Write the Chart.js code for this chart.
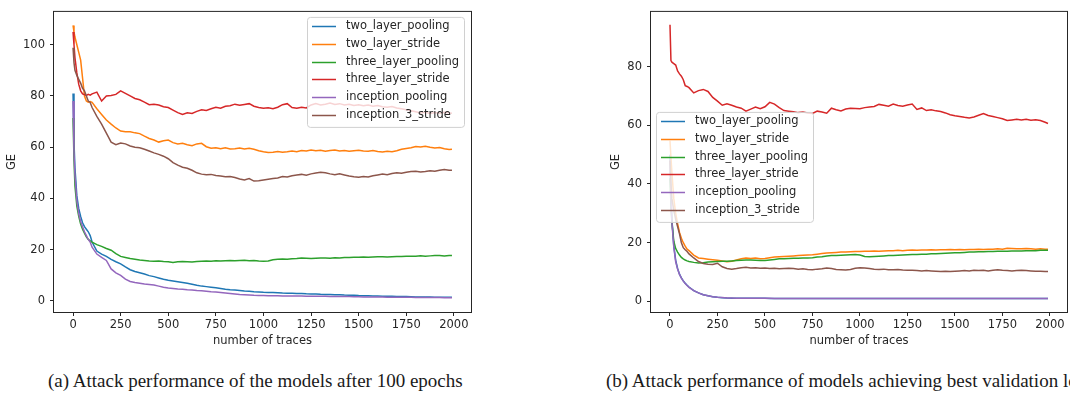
<!DOCTYPE html>
<html>
<head>
<meta charset="utf-8">
<script src="https://cdn.jsdelivr.net/npm/chart.js@4.4.1/dist/chart.umd.min.js"></script>
<style>
  html, body { margin: 0; padding: 0; background: #fff; overflow: hidden; }
  body { width: 1070px; height: 396px; position: relative; }
  canvas { position: absolute; top: 0; }
  #chartA { left: 0; }
  #chartB { left: 604px; }
  .caption {
    position: absolute; top: 370px; line-height: 22px;
    font-family: "Liberation Serif", "DejaVu Serif", serif; font-size: 19px;
    color: #1a1a1a; white-space: nowrap;
  }
</style>
</head>
<body>
<canvas id="chartA" width="480" height="352"></canvas>
<canvas id="chartB" width="466" height="352"></canvas>
<div class="caption" style="left:48px">(a) Attack performance of the models after 100 epochs</div>
<div class="caption" style="left:606px">(b) Attack performance of models achieving best validation loss</div>
<script>
const seriesNames = ["two_layer_pooling", "two_layer_stride", "three_layer_pooling",
  "three_layer_stride", "inception_pooling", "inception_3_stride"];
const seriesColors = ["#1f77b4", "#ff7f0e", "#2ca02c", "#d62728", "#9467bd", "#8c564b"];

const xTicks = [0, 250, 500, 750, 1000, 1250, 1500, 1750, 2000];
const yTicksA = [0, 20, 40, 60, 80, 100];
const yTicksB = [0, 20, 40, 60, 80];

// number of traces (x values shared by every series)
const traces = [0, 5, 10, 20, 30, 40, 50, 60, 70, 80, 90, 100,
  125, 150, 175, 200, 225, 250, 275, 300, 325, 350, 375, 400, 425, 450, 475, 500,
  525, 550, 575, 600, 625, 650, 675, 700, 725, 750, 775, 800, 825, 850, 875, 900,
  925, 950, 975, 1000,
  1025, 1050, 1075, 1100, 1125, 1150, 1175, 1200, 1225, 1250, 1275, 1300, 1325, 1350,
  1375, 1400, 1425, 1450, 1475, 1500, 1525, 1550, 1575, 1600, 1625, 1650, 1675, 1700,
  1725, 1750, 1775, 1800, 1825, 1850, 1875, 1900, 1925, 1950, 1975, 1990];

// (a) after 100 epochs
const a_twoLayerPooling = [81, 62, 52, 41, 36, 33, 30.5, 29, 28, 27, 25.5, 23,
  19.5, 18.3, 17.4, 16.2, 15.3, 14.5, 13.3, 12.2, 11.5, 11,
  10.5, 9.9, 9.5, 9, 8.5, 8.1, 7.8, 7.5, 7.2, 6.9,
  6.5, 6.1, 5.8, 5.6, 5.4, 5.2, 4.9, 4.6, 4.4, 4.3,
  4.1, 3.9, 3.8, 3.6, 3.5, 3.4,
  3.35, 3.3, 3.2, 3.1, 3.05, 3, 2.95, 2.9, 2.8, 2.75,
  2.7, 2.6, 2.55, 2.5, 2.45, 2.4, 2.3, 2.25, 2.2, 2.1,
  2.05, 2, 1.95, 1.9, 1.85, 1.8, 1.8, 1.75, 1.7, 1.7,
  1.65, 1.6, 1.6, 1.55, 1.55, 1.5, 1.5, 1.5, 1.45, 1.45];
const a_twoLayerStride = [107.5, 105, 103, 100, 97, 94, 87, 80, 78, 77.6, 77.8, 77.5,
  75, 72.8, 70.6, 69, 67.5, 66.3, 66, 66, 65.6, 65.3,
  64.3, 63.4, 62.8, 62, 62.5, 62.8, 61.8, 61.3, 61.5, 61,
  60.6, 61.3, 61.5, 60.2, 59.6, 59.8, 59.4, 59.8, 59.3, 59.4,
  59.7, 59.3, 59.6, 59.2, 58.6, 58.2,
  57.9, 58, 58.3, 58, 58.2, 58.5, 58.2, 58.7, 58.5, 58.9,
  58.6, 58.8, 58.4, 58.7, 58.9, 58.5, 58.7, 58.4, 58.6, 58.8,
  58.5, 58.4, 58.7, 58.3, 58.1, 58.4, 58.2, 58.6, 59.2, 59.5,
  59.8, 60.3, 60.1, 60.4, 60, 59.7, 59.9, 59.4, 59.1, 59.2];
const a_threeLayerPooling = [71.4, 55, 45, 37, 33, 30, 28, 26.5, 25, 24, 23.5, 23,
  22, 21.3, 20.5, 19.8, 18.5, 17.4, 17, 16.6, 16.3, 16,
  15.8, 15.6, 15.5, 15.6, 15.4, 15.3, 15, 15.3, 15.4, 15.3,
  15.2, 15.4, 15.5, 15.6, 15.5, 15.7, 15.6, 15.7, 15.8, 15.7,
  15.8, 15.9, 15.7, 15.8, 15.6, 15.5,
  15.6, 16.1, 16.3, 16.4, 16.3, 16.5, 16.6, 16.8, 16.7, 16.6,
  16.7, 16.8, 16.8, 16.7, 16.9, 16.8, 17, 17, 17.1, 17.1,
  17.2, 17.1, 17.2, 17.3, 17.3, 17.2, 17.3, 17.4, 17.4, 17.5,
  17.5, 17.5, 17.6, 17.5, 17.6, 17.7, 17.7, 17.6, 17.7, 17.7];
const a_threeLayerStride = [105, 100, 95, 89, 84.5, 82, 80.8, 80.5, 80.2, 80.6, 80.3, 80.8,
  81.5, 78, 80, 80.2, 80.6, 82, 81, 80, 79, 78.5,
  77.6, 76.6, 76.8, 76.5, 75.8, 75.5, 74.5, 73.5, 72.8, 73.4,
  73.2, 74, 74.6, 74.3, 75, 75.6, 75.2, 76, 76.2, 76.8,
  76.4, 76.7, 77, 76, 75.5, 75.2,
  75.4, 75, 75.6, 76.6, 77, 75.5, 75.2, 75.6, 75.3, 76.5,
  77, 76.5, 76.8, 77.2, 76.7, 77, 76.5, 76.8, 76.3, 76.6,
  76.2, 76.5, 76, 76.3, 75.8, 75.6, 75.9, 75.3, 75, 74.6,
  74.2, 73.8, 73.4, 73.6, 73.2, 73.5, 73.3, 73.6, 73.4, 73.3];
const a_inceptionPooling = [78, 58, 49, 39, 34, 31, 29, 27, 25.5, 24, 23, 21,
  18.3, 17, 15.8, 12.5, 11, 10, 8.5, 7.6, 7.2, 6.9,
  6.6, 6.4, 6.2, 5.8, 5.4, 5.1, 4.9, 4.7, 4.6, 4.4,
  4.3, 4.1, 4, 3.8, 3.6, 3.5, 3.3, 3.1, 2.9, 2.7,
  2.5, 2.4, 2.3, 2.2, 2.15, 2.1,
  2.05, 2, 2, 1.95, 1.95, 1.9, 1.9, 1.9, 1.85, 1.85,
  1.8, 1.8, 1.8, 1.75, 1.75, 1.7, 1.7, 1.7, 1.65, 1.65,
  1.6, 1.6, 1.6, 1.55, 1.55, 1.5, 1.5, 1.5, 1.45, 1.45,
  1.45, 1.4, 1.4, 1.4, 1.35, 1.35, 1.35, 1.3, 1.3, 1.3];
const a_inception3Stride = [98.8, 93, 90, 88, 86.5, 85, 83, 82, 80, 78, 77.5, 75.5,
  72, 69, 65.5, 62, 61, 61.6, 61.3, 60.5, 60, 59.8,
  59.2, 58.5, 57.8, 57.2, 56.5, 55.5, 54, 53, 52.2, 51.8,
  51, 50, 49.5, 49.3, 49.4, 49, 48.8, 48.5, 48.6, 48.2,
  47.6, 47.2, 47.8, 46.8, 46.9, 47.2,
  47.5, 47.8, 48, 48.6, 48.4, 48.9, 49.2, 49.4, 49.1, 49.6,
  49.9, 50.2, 50, 49.6, 49.3, 49.6, 49.2, 48.8, 48.5, 48.3,
  48.6, 48.4, 48.9, 49.2, 49.5, 49.3, 49.7, 50, 49.8, 50.2,
  50.5, 50.6, 50.3, 50.5, 50.8, 50.6, 51, 51.3, 51, 51];

// (b) best validation loss
const b_twoLayerPooling = [50, 36, 28, 19, 14, 11.2, 9.3, 8, 7, 6.2, 5.5, 4.9,
  3.7, 2.9, 2.3, 1.9, 1.6, 1.4, 1.25, 1.15, 1.1, 1.1,
  1.1, 1.05, 1.05, 1.05, 1.05, 1.05, 1, 1, 1, 1,
  1, 1, 1, 1, 1, 1, 1, 1, 1, 1,
  1, 1, 1, 1, 1, 1,
  1, 1, 1, 1, 1, 1, 1, 1, 1, 1,
  1, 1, 1, 1, 1, 1, 1, 1, 1, 1,
  1, 1, 1, 1, 1, 1, 1, 1, 1, 1,
  1, 1, 1, 1, 1, 1, 1, 1, 1, 1];
const b_twoLayerStride = [54.7, 49, 44, 35, 30, 26.5, 23.5, 21.5, 20, 18.8, 17.8, 17.3,
  15.8, 14.8, 14.6, 14.4, 14.2, 14, 13.8, 13.5, 13.7, 14.1,
  14.5, 14.8, 14.6, 14.8, 14.5, 14.6, 14.9, 15.1, 15.2, 15.3,
  15.4, 15.5, 15.6, 15.7, 15.8, 15.9, 16.1, 16.3, 16.5, 16.6,
  16.7, 16.8, 16.8, 16.9, 17, 17,
  17.1, 17.1, 17.2, 17.1, 17.2, 17.3, 17.3, 17.4, 17.3, 17.4,
  17.5, 17.4, 17.5, 17.5, 17.6, 17.5, 17.6, 17.6, 17.7, 17.6,
  17.7, 17.6, 17.7, 17.7, 17.8, 17.7, 17.8, 17.8, 17.9, 17.8,
  18.1, 18, 17.9, 17.9, 18, 17.9, 17.8, 17.9, 17.8, 17.8];
const b_threeLayerPooling = [42, 33, 27, 20.5, 18, 16.8, 15.8, 15, 14.5, 14.1, 13.8, 13.6,
  13.3, 13.1, 13.2, 13.4, 13.5, 13.6, 13.7, 13.7, 13.8, 13.9,
  14, 14.1, 14.1, 14, 13.9, 13.9, 14.1, 14.3, 14.5, 14.5,
  14.6, 14.7, 14.7, 14.8, 14.8, 14.9, 15.1, 15.2, 15.5, 15.6,
  15.6, 15.7, 15.8, 15.9, 16, 15.8,
  15.3, 15.2, 15.3, 15.4, 15.5, 15.6, 15.6, 15.7, 15.8, 15.9,
  16, 16, 16.1, 16.1, 16.2, 16.2, 16.3, 16.4, 16.5, 16.6,
  16.6, 16.7, 16.8, 16.8, 16.9, 16.9, 17, 17, 17.1, 17.1,
  17.1, 17.2, 17.2, 17.2, 17.3, 17.3, 17.3, 17.4, 17.4, 17.4];
const b_threeLayerStride = [94.2, 82, 81.5, 81, 80.5, 78.5, 77.5, 76.7, 75.5, 73.5, 73.2, 72.8,
  71, 71.8, 72.2, 71.5, 69.5, 68.2, 66.8, 67.3, 66.8, 66.2,
  65.8, 64.8, 65.5, 66.2, 65.6, 66.3, 67.8, 67.2, 66, 65,
  64.8, 64.6, 64.3, 64.5, 64.2, 64, 64.8, 64.5, 64.1, 65.8,
  65.3, 64.9, 65.5, 65.8, 65.7, 65.6,
  66, 66.2, 66.4, 67.1, 66.8, 66.5, 67.2, 66.7, 66.5, 66.9,
  67.2, 65.4, 65.9, 65, 65.3, 64.9, 64.7, 64.2, 63.6, 63.2,
  63, 62.7, 62.5, 62.8, 63.4, 64, 63.3, 63, 62.6, 62.2,
  61.6, 61.8, 62, 61.8, 62, 61.7, 61.9, 61.6, 61, 60.6];
const b_inceptionPooling = [48, 35, 27, 18.5, 13.5, 11, 9.2, 7.9, 6.9, 6.1, 5.4, 4.8,
  3.7, 2.9, 2.3, 1.9, 1.6, 1.4, 1.3, 1.2, 1.15, 1.1,
  1.1, 1.1, 1.05, 1.05, 1.05, 1.05, 1.05, 1, 1, 1,
  1, 1, 1, 1, 1, 1, 1, 1, 1, 1,
  1, 1, 1, 1, 1, 1,
  1, 1, 1, 1, 1, 1, 1, 1, 1, 1,
  1, 1, 1, 1, 1, 1, 1, 1, 1, 1,
  1, 1, 1, 1, 1, 1, 1, 1, 1, 1,
  1, 1, 1, 1, 1, 1, 1, 1, 1, 1];
const b_inception3Stride = [48, 40, 35, 31, 28, 25.5, 23, 20, 18.3, 17.6, 17, 16.2,
  14.8, 13.6, 12.9, 12.7, 12.6, 13, 11.8, 11.2, 11, 11.2,
  11.5, 11.6, 11.4, 11.5, 11.3, 11.4, 11.2, 11.3, 11.1, 11.2,
  11.3, 11.2, 11, 11.1, 10.9, 10.8, 11, 11.1, 11.4, 11.2,
  10.9, 10.8, 10.7, 10.9, 11.3, 11.5,
  11.4, 11.2, 11, 10.9, 11, 10.8, 10.8, 10.9, 10.7, 10.6,
  10.6, 10.5, 10.4, 10.5, 10.4, 10.3, 10.2, 10.3, 10.2, 10.3,
  10.4, 10.5, 10.4, 10.6, 10.5, 10.6, 10.4, 10.6, 10.8, 10.6,
  10.5, 10.4, 10.5, 10.6, 10.5, 10.4, 10.3, 10.3, 10.2, 10.2];

Chart.defaults.font.family = "'DejaVu Sans', sans-serif";
Chart.defaults.font.size = 11.5;
Chart.defaults.color = "#262626";

// draws the four spines and a matplotlib-like legend inside the plot
const frameAndLegend = {
  id: "frameAndLegend",
  afterDraw(chart, args, opts) {
    const ctx = chart.ctx;
    const area = chart.chartArea;
    ctx.save();
    ctx.strokeStyle = "#262626";
    ctx.lineWidth = 1;
    ctx.strokeRect(area.left - 0.5, area.top - 0.5, area.right - area.left + 1, area.bottom - area.top + 1);

    const w = 157, h = 110;
    const x0 = opts.right != null ? area.right - opts.right - w : area.left + opts.left;
    const y0 = area.top + opts.top;
    ctx.beginPath();
    ctx.roundRect(x0 + 0.5, y0 + 0.5, w, h, 3);
    ctx.fillStyle = "rgba(255,255,255,0.8)";
    ctx.fill();
    ctx.strokeStyle = "#d0d0d0";
    ctx.stroke();

    ctx.font = "11.5px 'DejaVu Sans'";
    ctx.textBaseline = "middle";
    ctx.textAlign = "left";
    chart.data.datasets.forEach((ds, i) => {
      const cy = Math.round(y0 + 9 + i * 17.8) + 0.5;
      ctx.strokeStyle = ds.borderColor;
      ctx.lineWidth = 1.5;
      ctx.beginPath();
      ctx.moveTo(x0 + 5, cy);
      ctx.lineTo(x0 + 29, cy);
      ctx.stroke();
      ctx.fillStyle = "#262626";
      ctx.fillText(ds.label, x0 + 39, cy);
    });
    ctx.restore();
  }
};

const makeChart = (id, series, yMin, yMax, yTicks, yAxisWidth, rightPad, legendPos) => {
  new Chart(document.getElementById(id), {
    type: "line",
    data: {
      datasets: series.map((values, i) => ({
        label: seriesNames[i],
        data: traces.map((t, j) => ({ x: t, y: values[j] })),
        borderColor: seriesColors[i],
        borderWidth: 1.5,
        pointRadius: 0,
        tension: 0,
        order: series.length - i,
      })),
    },
    options: {
      responsive: false,
      animation: false,
      devicePixelRatio: 1,
      layout: { padding: { top: 2, right: rightPad, left: 0, bottom: 0 } },
      plugins: {
        legend: { display: false },
        tooltip: { enabled: false },
        frameAndLegend: legendPos,
      },
      scales: {
        x: {
          type: "linear",
          min: -100,
          max: 2090,
          afterBuildTicks: (scale) => { scale.ticks = xTicks.map((v) => ({ value: v })); },
          afterFit: (scale) => { scale.height = 40; },
          ticks: { padding: 2, maxRotation: 0, callback: (v) => String(v) },
          grid: { drawOnChartArea: false, drawTicks: true, tickLength: 4, color: "#262626" },
          border: { display: false },
          title: { display: true, text: "number of traces", padding: { top: 0, bottom: 4 } },
        },
        y: {
          type: "linear",
          min: yMin,
          max: yMax,
          afterBuildTicks: (scale) => { scale.ticks = yTicks.map((v) => ({ value: v })); },
          afterFit: (scale) => { scale.width = yAxisWidth; },
          ticks: { padding: 5, callback: (v) => String(v) },
          grid: { drawOnChartArea: false, drawTicks: true, tickLength: 4, color: "#262626" },
          border: { display: false },
          title: { display: true, text: "GE", padding: { top: 5, bottom: 0 } },
        },
      },
    },
    plugins: [frameAndLegend],
  });
};

makeChart("chartA",
  [a_twoLayerPooling, a_twoLayerStride, a_threeLayerPooling, a_threeLayerStride, a_inceptionPooling, a_inception3Stride],
  -4.3, 112.8, yTicksA, 54, 9, { right: 7, top: 5 });

makeChart("chartB",
  [b_twoLayerPooling, b_twoLayerStride, b_threeLayerPooling, b_threeLayerStride, b_inceptionPooling, b_inception3Stride],
  -3.6, 98.6, yTicksB, 47, 3, { left: 5, top: 100 });
</script>
</body>
</html>
